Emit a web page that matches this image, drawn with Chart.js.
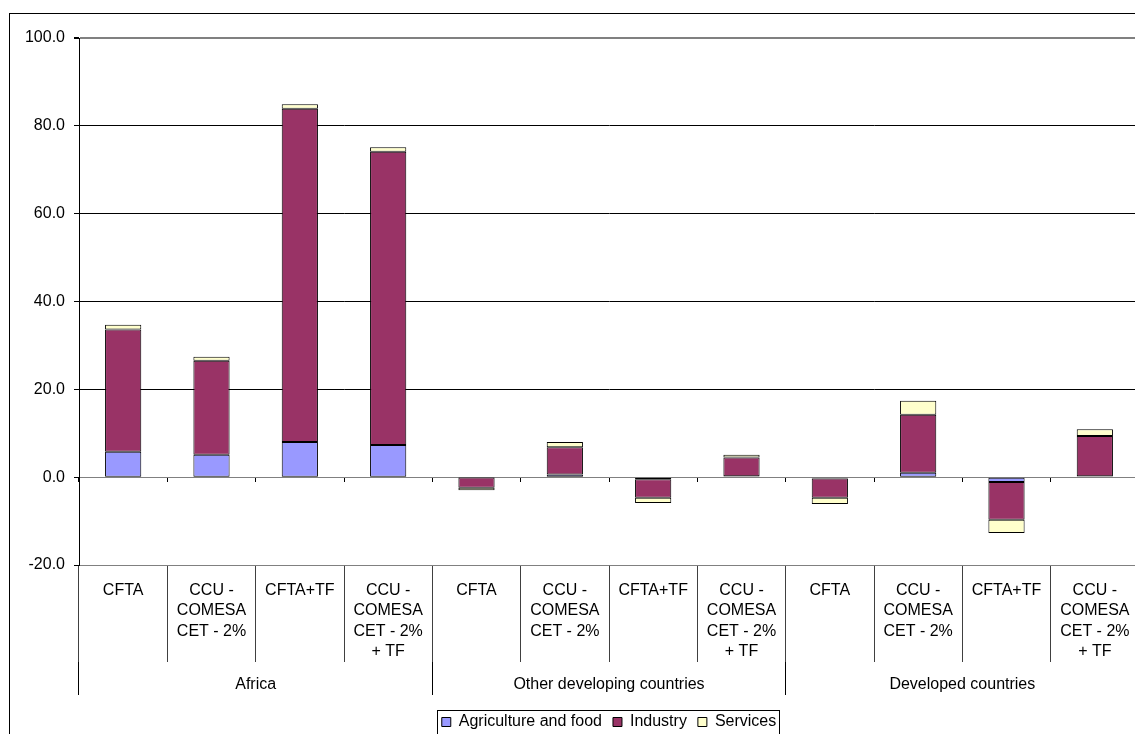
<!DOCTYPE html>
<html>
<head>
<meta charset="utf-8">
<script src="https://cdn.jsdelivr.net/npm/chart.js@4/dist/chart.umd.min.js"></script>
<style>
  html, body { margin: 0; padding: 0; overflow: hidden; background: #fff; width: 1135px; height: 734px; }
  #frame { position: absolute; left: 9px; top: 13px; width: 1200px; height: 800px; border: 1px solid #000; box-sizing: border-box; }
  #c { position: absolute; left: 0; top: 0; }
</style>
</head>
<body>
<div id="frame"></div>
<canvas id="c" width="1160" height="760"></canvas>
<script>
// Scenario labels (multi-line), repeated for each region
const scenarios = [
  ['CFTA'],
  ['CCU -', 'COMESA', 'CET - 2%'],
  ['CFTA+TF'],
  ['CCU -', 'COMESA', 'CET - 2%', '+ TF']
];
const regions = ['Africa', 'Other developing countries', 'Developed countries'];
const categories = [].concat(scenarios, scenarios, scenarios);

// Sector contributions per scenario and region
const agriculture = [5.8, 5.1, 8.0, 7.3,   -0.1, 0.6, -0.5, 0.2,   -0.3, 1.0, -1.1, 0.2];
const industry    = [27.8, 21.4, 75.9, 66.8, -2.3, 6.2, -4.2, 4.3,  -4.4, 13.2, -8.6, 9.2];
const services    = [1.1, 0.9, 1.0, 1.0,   -0.6, 1.2, -1.2, 0.6,   -1.4, 3.2, -3.0, 1.5];

const yMin = -20, yMax = 100, yStep = 20;

const FONT = "'Liberation Sans', Arial, sans-serif";
Chart.defaults.font.family = FONT;
Chart.defaults.font.size = 16;
Chart.defaults.color = '#000';

// Thin frame around the legend row
const legendFrame = {
  id: 'legendFrame',
  afterDraw(chart) {
    const lg = chart.legend;
    if (!lg || !lg.legendHitBoxes || !lg.legendHitBoxes.length) return;
    const hb = lg.legendHitBoxes;
    const a = hb[0], b = hb[hb.length - 1];
    const ctx = chart.ctx;
    const left = Math.round(a.left - 5) + 0.5;
    const right = Math.round(b.left + b.width + 3) + 0.5;
    const top = Math.round(a.top - 4) + 0.5;
    ctx.save();
    ctx.strokeStyle = '#000';
    ctx.lineWidth = 1;
    ctx.strokeRect(left, top, right - left, 60);
    ctx.restore();
  }
};

const barStyle = {
  borderColor: '#000',
  borderWidth: 1,
  borderSkipped: false,
  xAxisID: 'x',
  yAxisID: 'y',
  categoryPercentage: 1,
  barPercentage: 0.41
};

const edgeGray = v => (v === yMax || v === 0 || v === yMin);

new Chart(document.getElementById('c'), {
  type: 'bar',
  data: {
    labels: categories,
    datasets: [
      Object.assign({ label: 'Agriculture and food', data: agriculture, backgroundColor: '#9999FF' }, barStyle),
      Object.assign({ label: 'Industry', data: industry, backgroundColor: '#993366' }, barStyle),
      Object.assign({ label: 'Services', data: services, backgroundColor: '#FFFFCC' }, barStyle)
    ]
  },
  options: {
    responsive: false,
    animation: false,
    devicePixelRatio: 1,
    layout: { padding: { left: 0, top: 38, right: 21, bottom: 20 } },
    plugins: {
      legend: {
        position: 'bottom',
        fullSize: false,
        labels: { boxWidth: 9, boxHeight: 9, padding: 11, color: '#000', font: { size: 16 } }
      },
      tooltip: { enabled: false }
    },
    scales: {
      x: {
        type: 'category',
        stacked: true,
        offset: true,
        position: 'bottom',
        weight: 0,
        grid: { offset: true, drawOnChartArea: false, drawTicks: true, tickLength: 97, color: '#404040', lineWidth: 1 },
        border: { display: false },
        ticks: { autoSkip: false, maxRotation: 0, minRotation: 0, padding: -82, color: '#000', font: { size: 16, lineHeight: 1.28 } },
        afterFit(s) { s.height = 97; }
      },
      x2: {
        type: 'category',
        labels: regions,
        offset: true,
        position: 'bottom',
        weight: 1,
        grid: { offset: true, drawOnChartArea: false, drawTicks: true, tickLength: 33, color: '#000', lineWidth: 1 },
        border: { display: false },
        ticks: { autoSkip: false, maxRotation: 0, minRotation: 0, padding: -20, color: '#000', font: { size: 16, lineHeight: 1.25 } },
        afterFit(s) { s.height = 41; }
      },
      x0: {
        type: 'category',
        offset: true,
        position: { y: 0 },
        grid: { offset: true, drawOnChartArea: false, drawTicks: true, tickLength: 4, color: '#000', lineWidth: 1 },
        border: { display: true, color: '#808080', width: 1 },
        ticks: { display: false }
      },
      y: {
        type: 'linear',
        stacked: true,
        position: 'left',
        min: yMin,
        max: yMax,
        ticks: { stepSize: yStep, padding: 9, color: '#000', font: { size: 16 }, callback: v => Number(v).toFixed(1) },
        grid: {
          color: c => (c.tick && edgeGray(c.tick.value)) ? '#808080' : '#000',
          lineWidth: c => (c.tick && c.tick.value === yMax) ? 2 : 1,
          tickLength: 5,
          tickColor: '#000'
        },
        border: { display: true, color: '#000', width: 1 },
        afterFit(s) { s.width = 79; }
      }
    }
  },
  plugins: [legendFrame]
});
</script>
</body>
</html>
